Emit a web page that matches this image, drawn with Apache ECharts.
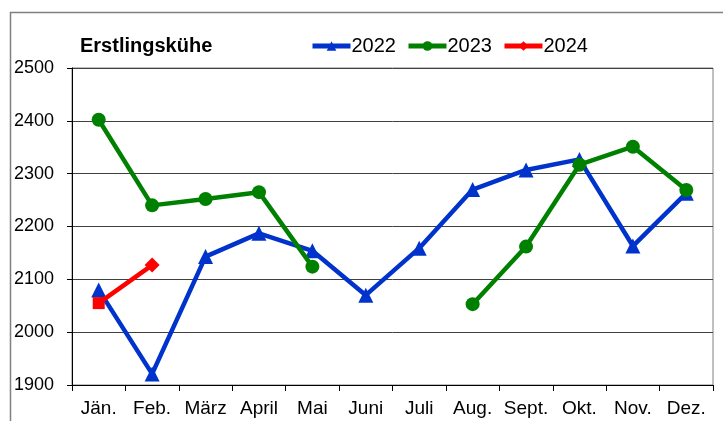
<!DOCTYPE html>
<html>
<head>
    <meta charset="utf-8">
    <title>Erstlingskühe</title>
    <script src="https://cdn.jsdelivr.net/npm/echarts@6/dist/echarts.min.js"></script>
    <style type="text/css">
        * { margin: 0; padding: 0; }
        body { background: #fff; }
    </style>
</head>
<body>
<div id="main" style="width: 723px; height: 421px;"></div>
<script type="text/javascript">
    var months = ['Jän.', 'Feb.', 'März', 'April', 'Mai', 'Juni', 'Juli', 'Aug.', 'Sept.', 'Okt.', 'Nov.', 'Dez.'];
    var yearNames = ['2022', '2023', '2024'];
    var values2022 = [2080, 1921, 2143, 2187, 2154, 2070, 2159, 2270, 2307, 2327, 2163, 2263];
    var values2023 = [2402, 2240, 2252, 2265, 2124, null, null, 2053, 2162, 2317, 2351, 2269];
    var values2024 = [2055, 2127];
    var yTicks = [1900, 2000, 2100, 2200, 2300, 2400, 2500];

    var myChart = echarts.init(document.getElementById('main'));

    var font = 'Liberation Sans, Arial, sans-serif';

    // 2024: erster Punkt Quadrat, danach Raute
    var data2024 = values2024.map(function (v, i) {
        return { value: v, symbol: i === 0 ? 'rect' : 'diamond', symbolSize: i === 0 ? 12 : 15 };
    });

    var option = {
        animation: false,
        backgroundColor: '#fff',
        graphic: [{
            type: 'rect',
            shape: { x: 10.5, y: 12.5, width: 730, height: 430 },
            style: { fill: 'none', stroke: '#808080', lineWidth: 1.5 },
            silent: true
        }, {
            type: 'text',
            left: 80,
            top: 36,
            style: { text: 'Erstlingskühe', font: 'bold 20px ' + font, fill: '#000' }
        }],
        legend: {
            left: 305,
            top: 31,
            itemWidth: 38,
            itemHeight: 12,
            itemGap: 10,
            lineStyle: { width: 5 },
            textStyle: { fontFamily: font, fontSize: 20, color: '#000', padding: [0, 0, 0, -4] },
            data: yearNames
        },
        grid: { left: 72, right: 10, top: 68, bottom: 36, containLabel: false, show: true, borderColor: '#808080', borderWidth: 1 },
        xAxis: {
            type: 'category',
            data: months,
            boundaryGap: true,
            axisLine: { lineStyle: { color: '#000', width: 1 } },
            axisTick: { show: true, interval: 0, length: 6, lineStyle: { color: '#000' }, alignWithLabel: false },
            axisLabel: { interval: 0, hideOverlap: false, fontFamily: font, fontSize: 19, color: '#000', margin: 14 },
            splitLine: { show: false }
        },
        yAxis: {
            type: 'value',
            min: yTicks[0],
            max: yTicks[yTicks.length - 1],
            interval: 100,
            axisLine: { show: true, lineStyle: { color: '#000', width: 1 } },
            axisTick: { show: true, inside: false, length: 5, lineStyle: { color: '#000' } },
            axisLabel: {
                fontFamily: font, fontSize: 18, color: '#000', margin: 18,
                formatter: function (v) { return String(v); }
            },
            splitLine: { show: true, lineStyle: { color: '#404040', width: 1 } }
        },
        series: [{
            name: yearNames[0],
            type: 'line',
            data: values2022,
            color: '#0033cc',
            lineStyle: { width: 4.5 },
            symbol: 'triangle',
            symbolSize: 15,
            z: 2
        }, {
            name: yearNames[1],
            type: 'line',
            data: values2023,
            color: '#008000',
            connectNulls: false,
            lineStyle: { width: 4.5 },
            symbol: 'circle',
            symbolSize: 14,
            z: 3
        }, {
            name: yearNames[2],
            type: 'line',
            data: data2024,
            color: '#ff0000',
            lineStyle: { width: 4.5 },
            symbol: 'diamond',
            symbolSize: 15,
            z: 4
        }]
    };

    myChart.setOption(option);

    window.addEventListener('resize', function () {
        myChart.resize();
    });
</script>
</body>
</html>
